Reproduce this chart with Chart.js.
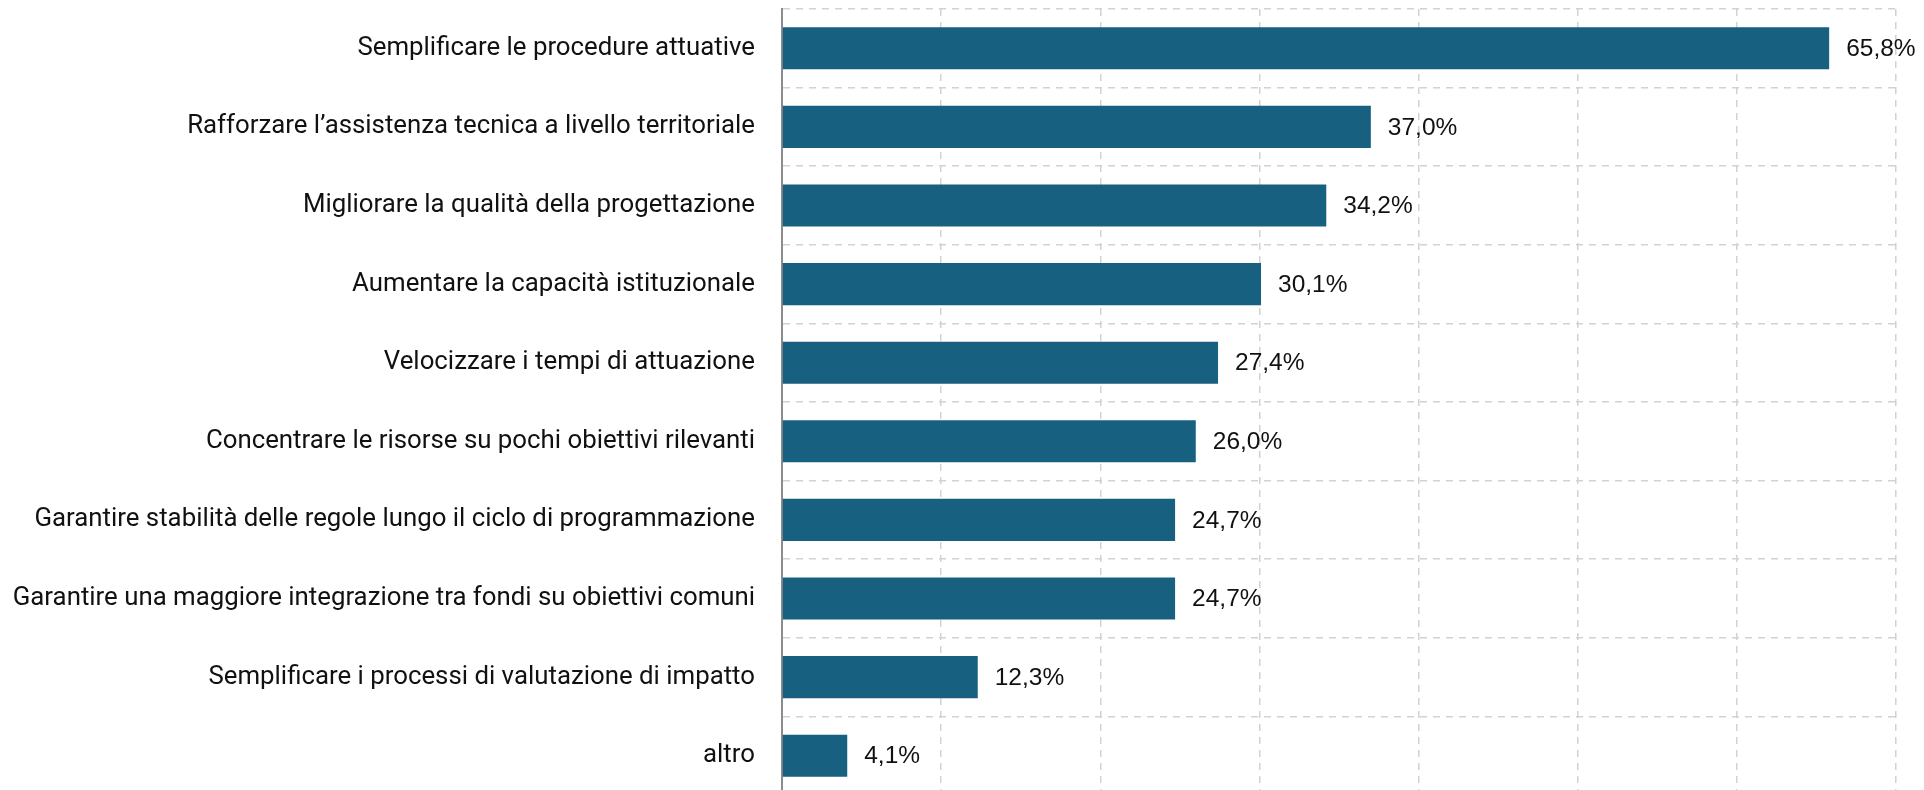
<!DOCTYPE html>
<html>
<head>
<meta charset="utf-8">
<script src="https://cdn.jsdelivr.net/npm/chart.js@4/dist/chart.umd.min.js"></script>
<style>
  html, body { margin: 0; padding: 0; background: #fff; overflow: hidden; }
  #wrap { width: 1924px; height: 800px; }
</style>
</head>
<body>
<div id="wrap"><canvas id="chart" width="1924" height="800"></canvas></div>
<script>
const categorie = [
  "Semplificare le procedure attuative",
  "Rafforzare l’assistenza tecnica a livello territoriale",
  "Migliorare la qualità della progettazione",
  "Aumentare la capacità istituzionale",
  "Velocizzare i tempi di attuazione",
  "Concentrare le risorse su pochi obiettivi rilevanti",
  "Garantire stabilità delle regole lungo il ciclo di programmazione",
  "Garantire una maggiore integrazione tra fondi su obiettivi comuni",
  "Semplificare i processi di valutazione di impatto",
  "altro"
];
const percentuali = [65.8, 37.0, 34.2, 30.1, 27.4, 26.0, 24.7, 24.7, 12.3, 4.1];
const assePassi = [0, 10, 20, 30, 40, 50, 60, 70];

const BLU = "#17607f";
const GRIGLIA = "#d2d2d2";

function fmtPct(v) {
  return v.toFixed(1).replace(".", ",") + "%";
}

// etichette valore a destra delle barre (niente plugin datalabels offline)
const etichetteValori = {
  id: "etichetteValori",
  afterDatasetsDraw(chart) {
    const { ctx } = chart;
    const meta = chart.getDatasetMeta(0);
    ctx.save();
    ctx.font = "24.5px 'Liberation Sans', Arial, sans-serif";
    ctx.fillStyle = "#111";
    ctx.textAlign = "left";
    ctx.textBaseline = "middle";
    meta.data.forEach((bar, i) => {
      ctx.fillText(fmtPct(percentuali[i]), bar.x + 17, bar.y + 1);
    });
    ctx.restore();
  }
};

new Chart(document.getElementById("chart"), {
  type: "bar",
  data: {
    labels: categorie,
    datasets: [{
      data: percentuali,
      backgroundColor: BLU,
      borderWidth: 0,
      categoryPercentage: 1,
      barPercentage: 0.535
    }]
  },
  plugins: [etichetteValori],
  options: {
    indexAxis: "y",
    responsive: false,
    animation: false,
    layout: { padding: { top: 9, right: 28, bottom: 5, left: 0 } },
    plugins: {
      legend: { display: false },
      tooltip: { enabled: false }
    },
    scales: {
      x: {
        min: assePassi[0],
        max: assePassi[assePassi.length - 1],
        afterBuildTicks: (scale) => { scale.ticks = assePassi.map(v => ({ value: v })); },
        afterFit: (scale) => { scale.height = 0; scale.paddingLeft = 0; scale.paddingRight = 0; },
        ticks: { display: false },
        border: { display: false, dash: [7, 6] },
        grid: { color: GRIGLIA, lineWidth: 1.5, drawTicks: false }
      },
      y: {
        afterFit: (scale) => {
          scale.width = 782;
          scale.paddingTop = 0;
          scale.paddingBottom = 0;
        },
        ticks: {
          padding: 27,
          color: "#111",
          font: { family: "Roboto, 'Noto Sans', sans-serif", size: 25.8 }
        },
        border: { display: true, color: "#8c8c8c", width: 2, dash: [7, 6] },
        grid: { color: GRIGLIA, lineWidth: 1.5, drawTicks: false }
      }
    }
  }
});
</script>
</body>
</html>
